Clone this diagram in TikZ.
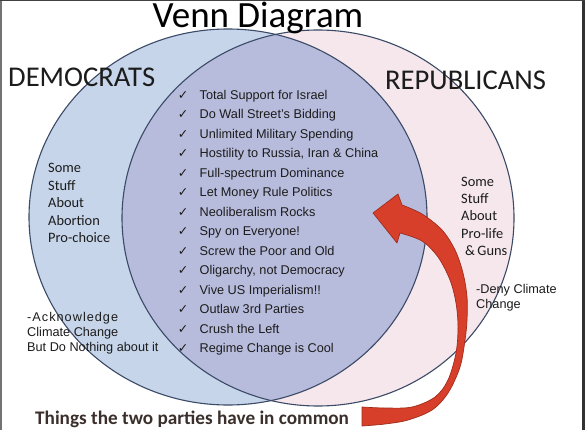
\documentclass[tikz,border=0pt]{standalone}
\usepackage{fontspec}
\setmainfont{Liberation Sans}
\newfontfamily\calfont{Carlito}
\newfontfamily\symfont{DejaVu Sans}
\newfontfamily\spacedfont[LetterSpace=8]{Liberation Sans}
\definecolor{demfill}{HTML}{C6D5EA}
\definecolor{repfill}{HTML}{F5E7EC}
\definecolor{bothfill}{HTML}{B8BCDC}
\definecolor{rimcol}{HTML}{3B4A66}
\definecolor{arrowfill}{HTML}{D73F2A}
\definecolor{arrowedge}{HTML}{A02C1C}
\definecolor{inkcol}{HTML}{1C1C1C}
\definecolor{capcol}{HTML}{3A2F2B}
\tikzset{
  rim/.style={draw=rimcol, line width=1.1pt},
  bigtitle/.style={font=\calfont\fontsize{37}{40}\selectfont, text=black, anchor=base, inner sep=0pt},
  party/.style={font=\calfont\fontsize{28.6}{30}\selectfont, text=inkcol, anchor=base west, inner sep=0pt},
  sidetext/.style={font=\calfont\fontsize{14.4}{17.6}\selectfont, text=inkcol, anchor=base west, inner sep=0pt},
  armtext/.style={font=\fontsize{12.7}{15}\selectfont, text=inkcol, anchor=base west, inner sep=0pt},
  chk/.style={font=\symfont\fontsize{12.5}{14}\selectfont, text=inkcol, anchor=base, inner sep=0pt},
  caption/.style={font=\calfont\bfseries\fontsize{19.2}{21}\selectfont, text=capcol, anchor=base west, inner sep=0pt},
  arrowbody/.style={fill=arrowfill, draw=arrowedge, line width=0.7pt, line join=round}
}
\begin{document}
\begin{tikzpicture}[x=1pt,y=-1pt]
\useasboundingbox (0,0) rectangle (585,430);
\fill[white] (0,0) rectangle (585,430);
% circles
\fill[repfill] (318,218) ellipse [x radius=196pt, y radius=188pt];
\fill[demfill] (228,217) ellipse [x radius=199pt, y radius=188pt];
\begin{scope}
  \clip (228,217) ellipse [x radius=199pt, y radius=188pt];
  \fill[bothfill] (318,218) ellipse [x radius=196pt, y radius=188pt];
\end{scope}
\draw[rim] (318,218) ellipse [x radius=196pt, y radius=188pt];
\draw[rim] (228,217) ellipse [x radius=199pt, y radius=188pt];
% titles
\node[bigtitle] (title) at (258,28) {Venn Diagram};
\node[party] (dem) at (8,87) {DEMOCRATS};
\node[party] (rep) at (385,90) {REPUBLICANS};
% left side
\node[sidetext] (l1) at (48,172.5) {Some};
\node[sidetext] (l2) at (48,190) {Stuff};
\node[sidetext] (l3) at (48,207.5) {About};
\node[sidetext] (l4) at (48,225) {Abortion};
\node[sidetext] (l5) at (48,242.5) {Pro-choice};
% right side
\node[sidetext] (r1) at (461,186.5) {Some};
\node[sidetext] (r2) at (461,203.7) {Stuff};
\node[sidetext] (r3) at (461,220.9) {About};
\node[sidetext] (r4) at (461,238.1) {Pro-life};
\node[sidetext] (r5) at (465,255.3) {\&\,Guns};
% climate notes
\node[armtext] (a1) at (27,321.5) {\spacedfont -Acknowledge};
\node[armtext] (a2) at (27,336.5) {Climate Change};
\node[armtext] (a3) at (27,351.5) {But Do Nothing about it};
\node[armtext] (d1) at (476,293.5) {-Deny Climate};
\node[armtext] (d2) at (476,308.5) {Change};
% common list
\foreach \t [count=\i] in {Total Support for Israel, Do Wall Street’s Bidding, Unlimited Military Spending, {Hostility to Russia, Iran \& China}, Full-spectrum Dominance, Let Money Rule Politics, Neoliberalism Rocks, Spy on Everyone!, Screw the Poor and Old, {Oligarchy, not Democracy}, Vive US Imperialism!!, Outlaw 3rd Parties, Crush the Left, Regime Change is Cool}{
  \pgfmathsetmacro{\yy}{99.5+19.46*(\i-1)}
  \node[chk] (c\i) at (183,\yy) {✓};
  \node[armtext] (t\i) at (199.5,\yy) {\t};
}
% caption
\node[caption] (cap) at (35,424) {Things the two parties have in common};
% curved arrow
\path[arrowbody]
  plot[smooth, tension=0.55] coordinates {(362,426) (385,424) (408,420) (432,410) (448,393) (460,367) (465,340) (467,320) (467,297) (463,273) (455,250) (442,230) (422,214) (402,205)}
  -- (398,194) -- (373,213) -- (397,243)
  -- plot[smooth, tension=0.55] coordinates {(400,233) (422,241) (438,257) (450,280) (456,303) (458,327) (456,353) (448,380) (435,397) (412,407) (385,408) (362,407)}
  -- cycle;
% frame
\fill[black!55] (0,0) rectangle (2,430);
\fill[black!80] (582,0) rectangle (585,430);
\fill[black!75] (0,0) rectangle (585,1);
\end{tikzpicture}
\end{document}
